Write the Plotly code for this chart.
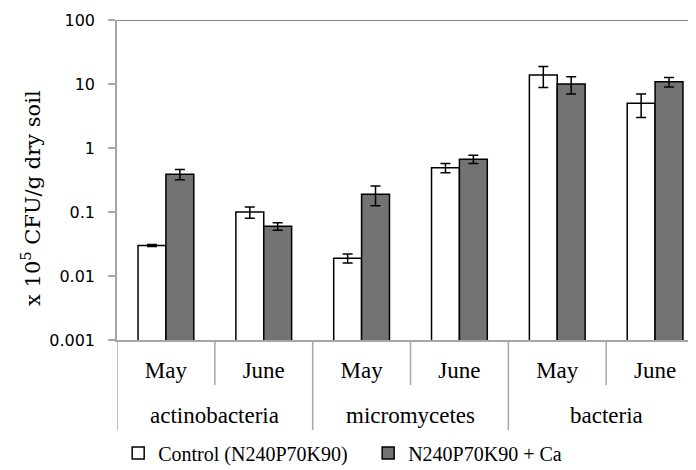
import plotly.graph_objects as go

groups = ["actinobacteria", "micromycetes", "bacteria"]
months = ["May", "June", "May", "June", "May", "June"]
categories = ["actinobacteria May", "actinobacteria June", "micromycetes May",
              "micromycetes June", "bacteria May", "bacteria June"]

control = [0.03, 0.10, 0.019, 0.49, 13.8, 5.0]
control_err = [0.001, 0.02, 0.003, 0.08, 5.0, 2.0]
calcium = [0.39, 0.06, 0.19, 0.67, 10.0, 10.8]
calcium_err = [0.07, 0.008, 0.065, 0.1, 3.0, 1.8]

series_names = ["Control (N240P70K90)", "N240P70K90 + Ca"]
y_ticks = [0.001, 0.01, 0.1, 1, 10, 100]
y_tick_text = ["0.001", "0.01", "0.1", "1", "10", "100"]

SERIF = "Liberation Serif"
AXIS_GRAY = "#a6a6a6"

# the page places the figure 8px from the top-left corner of the window
PAGE_OFFSET = 8
W, H = 696, 470 + PAGE_OFFSET
ML, MT = 117 - PAGE_OFFSET, 20 - PAGE_OFFSET
PLOT_BOTTOM = 340 - PAGE_OFFSET
MB = H - PLOT_BOTTOM
plot_h = float(PLOT_BOTTOM - MT)
plot_w = float(W - ML)

fig = go.Figure()
fig.add_trace(go.Bar(
    x=categories, y=control, name=series_names[0],
    marker=dict(color="white", line=dict(color="black", width=1.5)),
    error_y=dict(type="data", array=control_err, color="black", thickness=1.5, width=5),
))
fig.add_trace(go.Bar(
    x=categories, y=calcium, name=series_names[1],
    marker=dict(color="#737373", line=dict(color="black", width=1.5)),
    error_y=dict(type="data", array=calcium_err, color="black", thickness=1.5, width=5),
))

# top reference line at 100
fig.add_shape(type="line", xref="paper", yref="y", x0=0, x1=1, y0=100, y1=100,
              line=dict(color="#595959", width=1.5))

short_len = 45 / plot_h
long_len = 90 / plot_h
n_per_group = 2
for i in range(len(categories) + 1):
    xb = i - 0.5
    is_group_edge = (i % n_per_group == 0)
    fig.add_shape(type="line", xref="x", yref="paper", x0=xb, x1=xb,
                  y0=0, y1=-(long_len if is_group_edge else short_len),
                  line=dict(color=AXIS_GRAY, width=1.5))

for g, name in enumerate(groups):
    fig.add_annotation(x=g * n_per_group + (n_per_group - 1) / 2, xref="x",
                       y=-75 / plot_h, yref="paper", yanchor="middle",
                       text=name, showarrow=False,
                       font=dict(family=SERIF, size=23, color="black"))

fig.add_annotation(x=(31 - 117) / plot_w, xref="paper", y=(340 - 198) / plot_h, yref="paper",
                   text="x 10<sup>5</sup> CFU/g dry soil", textangle=-90, showarrow=False,
                   xanchor="center", yanchor="middle",
                   font=dict(family="DejaVu Serif", size=21, color="black"))

fig.update_layout(
    width=W, height=H,
    margin=dict(l=ML, r=0, t=MT, b=MB, autoexpand=False),
    paper_bgcolor="white", plot_bgcolor="white",
    barmode="group", bargap=0.43, bargroupgap=0,
    showlegend=True,
    legend=dict(orientation="h", x=0.002, xanchor="left", y=-113 / plot_h, yanchor="middle",
                font=dict(family=SERIF, size=20, color="black"),
                traceorder="normal", itemwidth=30, entrywidth=205),
    xaxis=dict(
        type="category",
        range=[-0.5, 5.5],
        tickvals=categories, ticktext=months,
        showline=True, linecolor=AXIS_GRAY, linewidth=1.5,
        ticks="", ticklabelstandoff=9,
        tickfont=dict(family=SERIF, size=23, color="black"),
        showgrid=False,
    ),
    yaxis=dict(
        type="log", range=[-3, 2],
        tickvals=y_ticks, ticktext=y_tick_text,
        showline=True, linecolor=AXIS_GRAY, linewidth=1.5,
        ticks="outside", ticklen=7, tickcolor=AXIS_GRAY, tickwidth=1.5,
        ticklabelstandoff=10,
        showgrid=False, zeroline=False,
        tickfont=dict(family="DejaVu Sans", size=16, color="black"),
    ),
)

fig.write_html("out.html")
